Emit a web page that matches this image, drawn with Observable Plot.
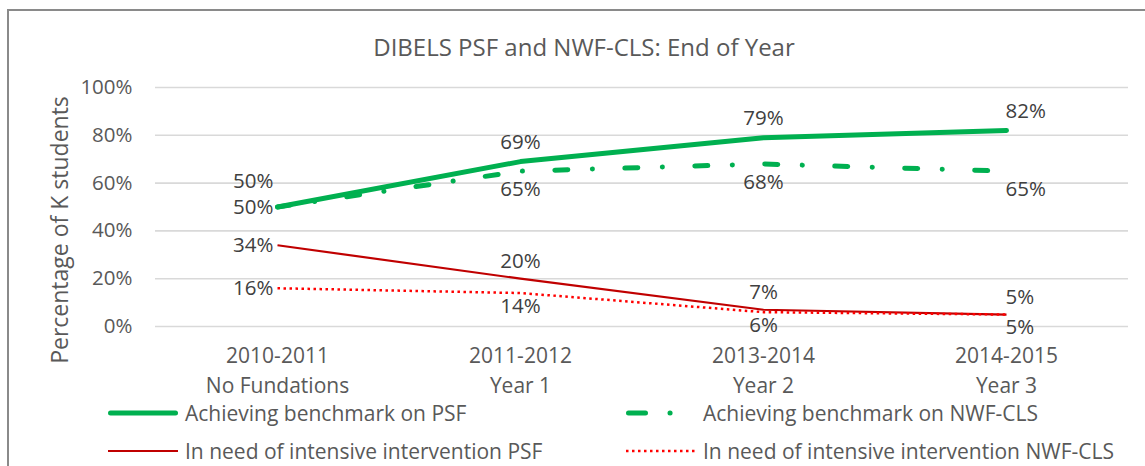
<!DOCTYPE html>
<html>
<head>
<meta charset="utf-8">
<script src="https://cdn.jsdelivr.net/npm/d3@7"></script>
<script src="https://cdn.jsdelivr.net/npm/@observablehq/plot@0.6"></script>
<style>
  html, body { margin: 0; padding: 0; background: #fff; }
  #wrap { position: relative; width: 1145px; height: 466px; overflow: hidden; font-family: "Open Sans", sans-serif; }
  #wrap svg.plot { position: absolute; left: 0; top: 0; }
  .frame { position: absolute; left: 7px; top: 9px; width: 1200px; height: 500px; border-left: 2px solid #8a8a8a; border-top: 2px solid #8a8a8a; }
  .title { position: absolute; left: 0; width: 1168px; top: 31px; text-align: center; font-size: 24px; color: #595959; line-height: 32px; white-space: nowrap; }
  .ytitle { position: absolute; left: 59px; top: 230px; transform: translate(-50%, -50%) rotate(-90deg); font-size: 23px; color: #595959; white-space: nowrap; line-height: 28px; }
  .leg { position: absolute; display: flex; align-items: center; font-size: 21px; color: #595959; white-space: nowrap; height: 30px; }
  .leg svg { display: block; margin-right: 7px; }
</style>
</head>
<body>
<div id="wrap"></div>
<script>
const categories = ["2010-2011", "2011-2012", "2013-2014", "2014-2015"];
const phases = ["No Fundations", "Year 1", "Year 2", "Year 3"];
const psfBenchmark = [50, 69, 79, 82];
const nwfBenchmark = [50, 65, 68, 65];
const psfIntensive = [34, 20, 7, 5];
const nwfIntensive = [16, 14, 6, 5];
const yTicks = [0, 20, 40, 60, 80, 100];
const seriesNames = [
  "Achieving benchmark on PSF",
  "Achieving benchmark on NWF-CLS",
  "In need of intensive intervention PSF",
  "In need of intensive intervention NWF-CLS"
];
const chartTitle = "DIBELS PSF and NWF-CLS: End of Year";
const yTitle = "Percentage of K students";

// styling per series
const styles = [
  {stroke: "#00B050", strokeWidth: 5, dash: null, cap: "round", labelDy: -19, firstDy: -26},
  {stroke: "#00B050", strokeWidth: 5, dash: "13,24.5,0.1,32.4", cap: "round", labelDy: 18, firstDy: 0},
  {stroke: "#C00000", strokeWidth: 2.2, dash: null, cap: "butt", labelDy: -17, firstDy: 0},
  {stroke: "#FF0000", strokeWidth: 2.5, dash: "2.5,3.5", cap: "butt", labelDy: 13, firstDy: 0}
];
const seriesValues = [psfBenchmark, nwfBenchmark, psfIntensive, nwfIntensive];

const rows = [];
seriesValues.forEach((vals, s) => vals.forEach((v, i) => rows.push({series: s, cat: categories[i], idx: i, value: v})));

const marks = [
  Plot.ruleY(yTicks, {stroke: "#d9d9d9", strokeWidth: 1.6}),
  Plot.axisY({ticks: yTicks, tickSize: 0, tickPadding: 23, tickFormat: d => d + "%", fontSize: 20.5, fill: "#595959", label: null}),
  Plot.text(categories, {x: d => d, frameAnchor: "bottom", dy: 30, lineAnchor: "middle", fontSize: 21, fill: "#595959"}),
  Plot.text(categories.map((c, i) => ({c, p: phases[i]})), {x: "c", text: "p", frameAnchor: "bottom", dy: 60, lineAnchor: "middle", fontSize: 21, fill: "#595959"})
];

styles.forEach((st, s) => {
  const data = rows.filter(r => r.series === s);
  marks.push(Plot.line(data, {
    x: "cat", y: "value", stroke: st.stroke, strokeWidth: st.strokeWidth,
    strokeDasharray: st.dash || undefined, strokeLinecap: st.cap, strokeLinejoin: "round"
  }));
});

rows.forEach(r => {
  const st = styles[r.series];
  const last = r.idx === categories.length - 1;
  let opts;
  if (r.idx === 0) {
    opts = {textAnchor: "end", dx: -4, dy: st.firstDy};
  } else {
    const dy = st.labelDy;
    opts = last ? {textAnchor: "start", dx: -1, dy} : {textAnchor: "middle", dx: 0, dy};
  }
  marks.push(Plot.text([r], {
    x: "cat", y: "value", text: d => d.value + "%", lineAnchor: "middle",
    fontSize: 20.5, fill: "#404040", ...opts
  }));
});

const chart = Plot.plot({
  width: 1145,
  height: 466,
  marginLeft: 155,
  marginRight: 17,
  marginTop: 87,
  marginBottom: 140,
  style: {fontFamily: "Open Sans, sans-serif", background: "transparent", overflow: "visible"},
  x: {type: "point", domain: categories, padding: 0.5, axis: null},
  y: {domain: [0, 100], axis: null},
  marks
});
chart.classList.add("plot");

const wrap = document.getElementById("wrap");
const frame = document.createElement("div");
frame.className = "frame";
wrap.appendChild(frame);
wrap.appendChild(chart);

const t = document.createElement("div");
t.className = "title";
t.textContent = chartTitle;
wrap.appendChild(t);

const yt = document.createElement("div");
yt.className = "ytitle";
yt.textContent = yTitle;
wrap.appendChild(yt);

// legend
const legendPos = [
  {left: 108, top: 398}, {left: 626, top: 398},
  {left: 108, top: 436}, {left: 626, top: 436}
];
const legendDash = [null, "17,24.5,0.1,24.9,0.1,100", null, "2.5,3.5"];
seriesNames.forEach((name, s) => {
  const st = styles[s];
  const item = document.createElement("div");
  item.className = "leg";
  item.style.left = legendPos[s].left + "px";
  item.style.top = legendPos[s].top + "px";
  const w = 70;
  const svg = d3.create("svg").attr("width", w).attr("height", 10);
  const pad = st.cap === "round" ? st.strokeWidth / 2 : 0;
  svg.append("line")
    .attr("x1", pad).attr("x2", w - pad).attr("y1", 5).attr("y2", 5)
    .attr("stroke", st.stroke).attr("stroke-width", st.strokeWidth)
    .attr("stroke-linecap", st.cap)
    .attr("stroke-dasharray", legendDash[s]);
  item.appendChild(svg.node());
  const span = document.createElement("span");
  span.textContent = name;
  item.appendChild(span);
  wrap.appendChild(item);
});
</script>
</body>
</html>
